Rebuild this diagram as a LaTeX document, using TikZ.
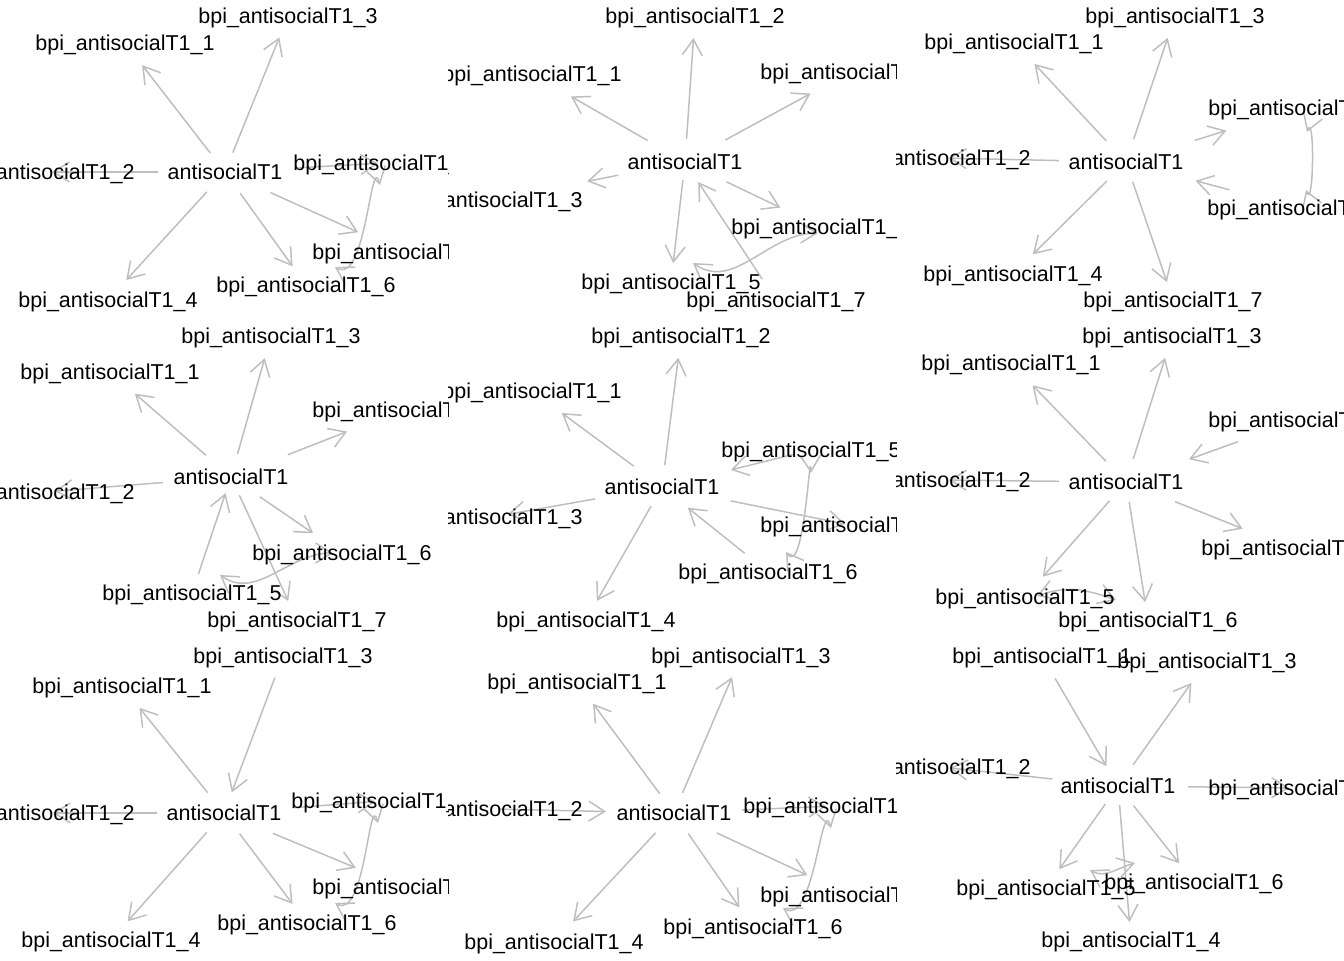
\documentclass[tikz,border=0pt]{standalone}
\usepackage{fontspec}
\setmainfont{Liberation Sans}
\usetikzlibrary{arrows.meta}
\definecolor{edgegray}{RGB}{190,190,190}

\begin{document}
\begin{tikzpicture}[x=0.5pt,y=-0.5pt,
  >={Straight Barb[length=8pt,width=10pt]},
  txt/.style={font=\fontsize{10.75}{12}\selectfont, inner sep=0pt, text height=7.7pt, text depth=0pt},
  edge/.style 2 args={draw=edgegray, line width=0.75pt, ->, shorten <=#1, shorten >=#2},
  mutual/.style={draw=edgegray, line width=0.75pt, <->}]
\useasboundingbox (0,0) rectangle (1344,960);

% Draw the first panel (top left)
\begin{scope}[name prefix=a-]
\clip (0,0) rectangle (448,320);
\coordinate (c) at (225,172);
\coordinate (i1) at (125,43);
\coordinate (i2) at (45,172);
\coordinate (i3) at (288,16);
\coordinate (i4) at (108,300);
\coordinate (i5) at (383,163);
\coordinate (i6) at (306,285);
\coordinate (i7) at (402,252);
\coordinate (k1) at (380,185);
\coordinate (k2) at (335,267);
\draw[edge={12pt}{14pt}] (c) -- (i1);
\draw[edge={33.5pt}{3.5pt}] (c) -- (i2);
\draw[edge={10.5pt}{11.5pt}] (c) -- (i3);
\draw[edge={13.5pt}{13.5pt}] (c) -- (i4);
\draw[edge={35pt}{2.5pt}] (c) -- (i5);
\draw[edge={13pt}{11.5pt}] (c) -- (i6);
\draw[edge={25pt}{24pt}] (c) -- (i7);
\draw[mutual] (k1) to[out=105,in=-30] (k2);
\node[txt] (tc) at (c) {antisocialT1};
\foreach \idx in {1,...,7} \node[txt] (t\idx) at (i\idx) {bpi\_antisocialT1\_\idx};
\end{scope}

% Draw the second panel (top middle)
\begin{scope}[name prefix=b-]
\clip (448,0) rectangle (896,320);
\coordinate (c) at (685,162);
\coordinate (i1) at (532,74);
\coordinate (i2) at (695,16);
\coordinate (i3) at (493,200);
\coordinate (i4) at (850,72);
\coordinate (i5) at (671,282);
\coordinate (i6) at (821,227);
\coordinate (i7) at (776,300);
\coordinate (k1) at (818,233);
\coordinate (k2) at (693,263);
\draw[edge={21.5pt}{22.5pt}] (c) -- (i1);
\draw[edge={11.5pt}{11pt}] (c) -- (i2);
\draw[edge={34pt}{48pt}] (c) -- (i3);
\draw[edge={23pt}{22.5pt}] (c) -- (i4);
\draw[edge={9pt}{9.5pt}] (c) -- (i5);
\draw[edge={23pt}{22.5pt}] (c) -- (i6);
\draw[edge={12.5pt}{12pt}] (i7) -- (c);
\draw[mutual] (k1) to[out=180,in=-35] (k2);
\node[txt] (tc) at (c) {antisocialT1};
\foreach \idx in {1,...,7} \node[txt] (t\idx) at (i\idx) {bpi\_antisocialT1\_\idx};
\end{scope}

% Draw the third panel (top right)
\begin{scope}[name prefix=c-]
\clip (896,0) rectangle (1344,320);
\coordinate (c) at (1126,162);
\coordinate (i1) at (1014,42);
\coordinate (i2) at (941,158);
\coordinate (i3) at (1175,16);
\coordinate (i4) at (1013,274);
\coordinate (i5) at (1298,108);
\coordinate (i6) at (1297,208);
\coordinate (i7) at (1173,300);
\coordinate (k1) at (1307,132);
\coordinate (k2) at (1306,190);
\draw[edge={14.5pt}{15pt}] (c) -- (i1);
\draw[edge={33.5pt}{4pt}] (c) -- (i2);
\draw[edge={12pt}{11.5pt}] (c) -- (i3);
\draw[edge={13.5pt}{14pt}] (c) -- (i4);
\draw[edge={36pt}{37.5pt}] (c) -- (i5);
\draw[edge={35pt}{36pt}] (i6) -- (c);
\draw[edge={10.5pt}{9.5pt}] (c) -- (i7);
\draw[mutual] (k1) to[out=70,in=-70] (k2);
\node[txt] (tc) at (c) {antisocialT1};
\foreach \idx in {1,...,7} \node[txt] (t\idx) at (i\idx) {bpi\_antisocialT1\_\idx};
\end{scope}

% Draw the fourth panel (middle left)
\begin{scope}[name prefix=d-]
\clip (0,320) rectangle (448,640);
\coordinate (c) at (231,477);
\coordinate (i1) at (110,372);
\coordinate (i2) at (45,492);
\coordinate (i3) at (271,336);
\coordinate (i4) at (402,410);
\coordinate (i5) at (192,593);
\coordinate (i6) at (342,553);
\coordinate (i7) at (297,620);
\coordinate (k1) at (333,553);
\coordinate (k2) at (220,575);
\draw[edge={16.5pt}{16.5pt}] (c) -- (i1);
\draw[edge={34pt}{5pt}] (c) -- (i2);
\draw[edge={12pt}{11.5pt}] (c) -- (i3);
\draw[edge={30.5pt}{29.5pt}] (c) -- (i4);
\draw[edge={10pt}{8.5pt}] (i5) -- (c);
\draw[edge={17.5pt}{17.5pt}] (c) -- (i6);
\draw[edge={10pt}{10.5pt}] (c) -- (i7);
\draw[mutual] (k1) to[out=180,in=-35] (k2);
\node[txt] (tc) at (c) {antisocialT1};
\foreach \idx in {1,...,7} \node[txt] (t\idx) at (i\idx) {bpi\_antisocialT1\_\idx};
\end{scope}

% Draw the fifth panel (centre)
\begin{scope}[name prefix=e-]
\clip (448,320) rectangle (896,640);
\coordinate (c) at (662,487);
\coordinate (i1) at (532,391);
\coordinate (i2) at (681,336);
\coordinate (i3) at (493,517);
\coordinate (i4) at (586,620);
\coordinate (i5) at (811,450);
\coordinate (i6) at (768,572);
\coordinate (i7) at (850,525);
\coordinate (k1) at (811,473);
\coordinate (k2) at (786,552);
\draw[edge={17.5pt}{18.5pt}] (c) -- (i1);
\draw[edge={11pt}{11pt}] (c) -- (i2);
\draw[edge={34pt}{7.5pt}] (c) -- (i3);
\draw[edge={11pt}{11pt}] (c) -- (i4);
\draw[edge={8.5pt}{35.5pt}] (i5) -- (c);
\draw[edge={15pt}{16.5pt}] (i6) -- (c);
\draw[edge={35pt}{2.5pt}] (c) -- (i7);
\draw[mutual] (k1) to[out=92,in=-55] (k2);
\node[txt] (tc) at (c) {antisocialT1};
\foreach \idx in {1,...,7} \node[txt] (t\idx) at (i\idx) {bpi\_antisocialT1\_\idx};
\end{scope}

% Draw the sixth panel (middle right)
\begin{scope}[name prefix=f-]
\clip (896,320) rectangle (1344,640);
\coordinate (c) at (1126,482);
\coordinate (i1) at (1011,363);
\coordinate (i2) at (941,480);
\coordinate (i3) at (1172,336);
\coordinate (i4) at (1298,420);
\coordinate (i5) at (1025,597);
\coordinate (i6) at (1148,620);
\coordinate (i7) at (1291,548);
\coordinate (k1) at (1037,596);
\coordinate (k2) at (1116,600);
\draw[edge={14.5pt}{15.5pt}] (c) -- (i1);
\draw[edge={33.5pt}{4pt}] (c) -- (i2);
\draw[edge={12pt}{11.5pt}] (c) -- (i3);
\draw[edge={32pt}{33.5pt}] (i4) -- (c);
\draw[edge={12.5pt}{13.5pt}] (c) -- (i5);
\draw[edge={10pt}{9pt}] (c) -- (i6);
\draw[edge={26.5pt}{26pt}] (c) -- (i7);
\draw[mutual] (k1) to[out=20,in=160] (k2);
\node[txt] (tc) at (c) {antisocialT1};
\foreach \idx in {1,...,7} \node[txt] (t\idx) at (i\idx) {bpi\_antisocialT1\_\idx};
\end{scope}

% Draw the seventh panel (bottom left)
\begin{scope}[name prefix=g-]
\clip (0,640) rectangle (448,960);
\coordinate (c) at (224,813);
\coordinate (i1) at (122,686);
\coordinate (i2) at (45,813);
\coordinate (i3) at (283,656);
\coordinate (i4) at (111,940);
\coordinate (i5) at (381,801);
\coordinate (i6) at (307,923);
\coordinate (i7) at (402,887);
\coordinate (k1) at (378,823);
\coordinate (k2) at (335,903);
\draw[edge={13pt}{14pt}] (c) -- (i1);
\draw[edge={33.5pt}{4pt}] (c) -- (i2);
\draw[edge={11.5pt}{11pt}] (i3) -- (c);
\draw[edge={13pt}{12.5pt}] (c) -- (i4);
\draw[edge={34.5pt}{3pt}] (c) -- (i5);
\draw[edge={13pt}{12pt}] (c) -- (i6);
\draw[edge={26.5pt}{25pt}] (c) -- (i7);
\draw[mutual] (k1) to[out=105,in=-30] (k2);
\node[txt] (tc) at (c) {antisocialT1};
\foreach \idx in {1,...,7} \node[txt] (t\idx) at (i\idx) {bpi\_antisocialT1\_\idx};
\end{scope}

% Draw the eighth panel (bottom middle)
\begin{scope}[name prefix=h-]
\clip (448,640) rectangle (896,960);
\coordinate (c) at (674,813);
\coordinate (i1) at (577,682);
\coordinate (i2) at (493,809);
\coordinate (i3) at (741,656);
\coordinate (i4) at (554,942);
\coordinate (i5) at (833,806);
\coordinate (i6) at (753,927);
\coordinate (i7) at (850,895);
\coordinate (k1) at (831,828);
\coordinate (k2) at (783,908);
\draw[edge={12pt}{13.5pt}] (c) -- (i1);
\draw[edge={3.5pt}{34pt}] (i2) -- (c);
\draw[edge={11pt}{11.5pt}] (c) -- (i3);
\draw[edge={13.5pt}{14pt}] (c) -- (i4);
\draw[edge={34pt}{3.5pt}] (c) -- (i5);
\draw[edge={12.5pt}{12pt}] (c) -- (i6);
\draw[edge={23.5pt}{23.5pt}] (c) -- (i7);
\draw[mutual] (k1) to[out=105,in=-30] (k2);
\node[txt] (tc) at (c) {antisocialT1};
\foreach \idx in {1,...,7} \node[txt] (t\idx) at (i\idx) {bpi\_antisocialT1\_\idx};
\end{scope}

% Draw the ninth panel (bottom right)
\begin{scope}[name prefix=i-]
\clip (896,640) rectangle (1344,960);
\coordinate (c) at (1118,786);
\coordinate (i1) at (1042,656);
\coordinate (i2) at (941,767);
\coordinate (i3) at (1207,661);
\coordinate (i4) at (1131,940);
\coordinate (i5) at (1046,888);
\coordinate (i6) at (1194,882);
\coordinate (i7) at (1298,788);
\coordinate (k1) at (1090,870);
\coordinate (k2) at (1135,863);
\draw[edge={13pt}{11.5pt}] (i1) -- (c);
\draw[edge={33pt}{4.5pt}] (c) -- (i2);
\draw[edge={13pt}{13.5pt}] (c) -- (i3);
\draw[edge={9.5pt}{9pt}] (c) -- (i4);
\draw[edge={11pt}{11.5pt}] (c) -- (i5);
\draw[edge={12.5pt}{12pt}] (c) -- (i6);
\draw[edge={35pt}{4.5pt}] (c) -- (i7);
\draw[mutual] (k1) to[out=-30,in=-165] (k2);
\node[txt] (tc) at (c) {antisocialT1};
\foreach \idx in {1,...,7} \node[txt] (t\idx) at (i\idx) {bpi\_antisocialT1\_\idx};
\end{scope}

\end{tikzpicture}
\end{document}
